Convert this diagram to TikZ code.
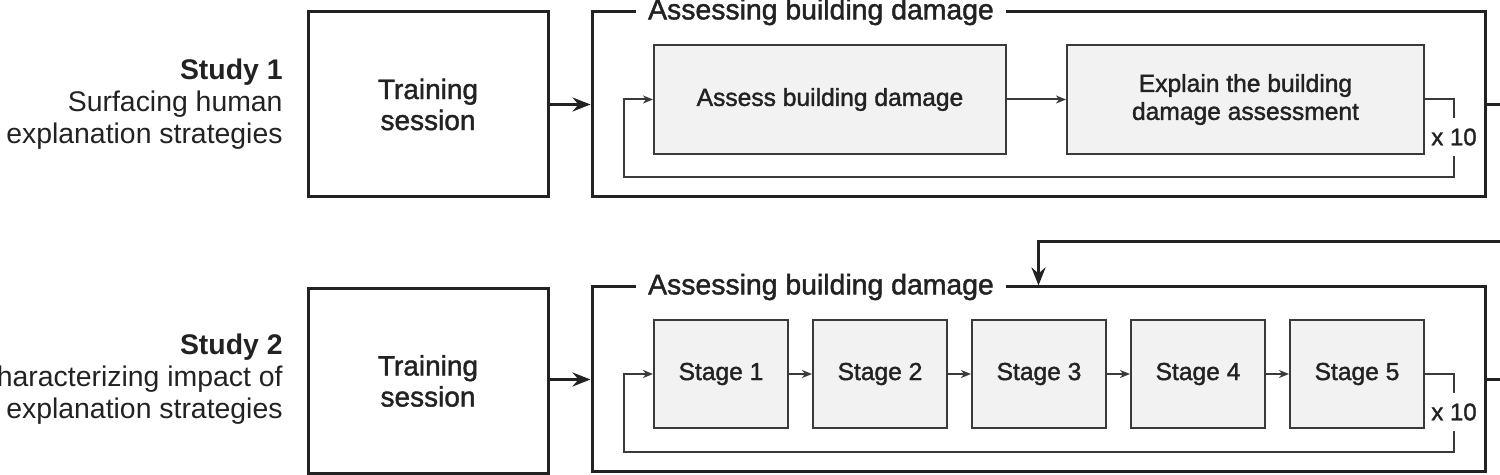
\documentclass[tikz,border=0pt]{standalone}
\usepackage{fontspec}
\setmainfont{Liberation Sans}
\newfontfamily\medfont[FakeBold=1.5]{Liberation Sans}
\usetikzlibrary{arrows.meta}
\definecolor{ink}{HTML}{222222}
\definecolor{boxline}{HTML}{3A3A3A}
\definecolor{boxfill}{HTML}{F2F2F2}
\tikzset{
  bigbox/.style={draw=ink, line width=1.5pt, rectangle, inner sep=0pt, text=ink},
  inbox/.style={draw=boxline, fill=boxfill, line width=1pt, rectangle, inner sep=0pt, text=ink,
     font=\fontsize{12.3}{14}\selectfont\medfont, align=center},
  titlelbl/.style={fill=white, inner xsep=6pt, inner ysep=2pt, text=ink,
     font=\fontsize{14.2}{16}\selectfont\medfont},
  studylbl/.style={align=right, anchor=east, inner sep=0pt, text=ink, font=\fontsize{14.2}{16}\selectfont},
  trainlbl/.style={font=\fontsize{14}{15.5}\selectfont\medfont, align=center},
  reptlbl/.style={inner sep=0pt, minimum height=18.5pt, text=ink, font=\fontsize{12}{14}\selectfont\medfont},
  thickarrow/.style={draw=ink, line width=1.5pt, -{Stealth[length=9pt,width=7pt,inset=3pt]}},
  thickline/.style={draw=ink, line width=1.5pt},
  thinarrow/.style={draw=boxline, line width=1pt, -{Stealth[length=5pt,width=4pt,inset=1.5pt]}},
  thinline/.style={draw=boxline, line width=1pt}
}
\begin{document}
\begin{tikzpicture}[x=0.5pt,y=-0.5pt]
\useasboundingbox (0,0) rectangle (1500,475);

% ---------- Study 1 ----------
\node[studylbl] (s1) at (283,104) {\textbf{Study 1}\\Surfacing human\\explanation strategies};
\node[bigbox, minimum width=120pt, minimum height=92.5pt, trainlbl] (t1) at (428,104.5) {Training\\session};
\node[bigbox, minimum width=446.5pt, minimum height=92.5pt] (o1) at (1038.5,104.5) {};
\node[titlelbl] (ttl1) at (821,12) {Assessing building damage};
\node[inbox, minimum width=176pt, minimum height=54.5pt] (a1) at (830,99.5) {Assess building damage};
\node[inbox, minimum width=178.5pt, minimum height=54.5pt] (b1) at (1245.5,99.5) {Explain the building\\damage assessment};
\node[reptlbl] (r1) at (1454,137) {x 10};
\coordinate (l1) at (624,177);
\coordinate (e1) at (1500,104.5);

\draw[thickarrow] (t1.east) -- (o1.west);
\draw[thinarrow] (a1.east) -- (b1.west);
\draw[thinline] (b1.east) -| (r1.north);
\draw[thinarrow] (r1.south) |- (l1) |- (a1.west);
\draw[thickline] (o1.east) -- (e1);

% ---------- Study 2 ----------
\node[studylbl] (s2) at (283,379.5) {\textbf{Study 2}\\Characterizing impact of\\explanation strategies};
\node[bigbox, minimum width=120pt, minimum height=92.5pt, trainlbl] (t2) at (428,381) {Training\\session};
\node[bigbox, minimum width=446.5pt, minimum height=92.5pt] (o2) at (1038.5,379.5) {};
\node[titlelbl] (ttl2) at (821,287) {Assessing building damage};
\node[inbox, minimum width=67pt, minimum height=54pt] (st1) at (721,374) {Stage 1};
\node[inbox, minimum width=67pt, minimum height=54pt] (st2) at (880,374) {Stage 2};
\node[inbox, minimum width=67pt, minimum height=54pt] (st3) at (1039,374) {Stage 3};
\node[inbox, minimum width=67pt, minimum height=54pt] (st4) at (1198,374) {Stage 4};
\node[inbox, minimum width=67pt, minimum height=54pt] (st5) at (1357,374) {Stage 5};
\node[reptlbl] (r2) at (1454,412) {x 10};
\coordinate (l2) at (624,452);
\coordinate (e2) at (1500,379.5);
\coordinate (in2) at (1500,242);

\draw[thickarrow] (t2.east |- o2.west) -- (o2.west);
\draw[thinarrow] (st1.east) -- (st2.west);
\draw[thinarrow] (st2.east) -- (st3.west);
\draw[thinarrow] (st3.east) -- (st4.west);
\draw[thinarrow] (st4.east) -- (st5.west);
\draw[thinline] (st5.east) -| (r2.north);
\draw[thinarrow] (r2.south) |- (l2) |- (st1.west);
\draw[thickline] (o2.east) -- (e2);
\draw[thickarrow] (in2) -| (o2.north);
\end{tikzpicture}
\end{document}
